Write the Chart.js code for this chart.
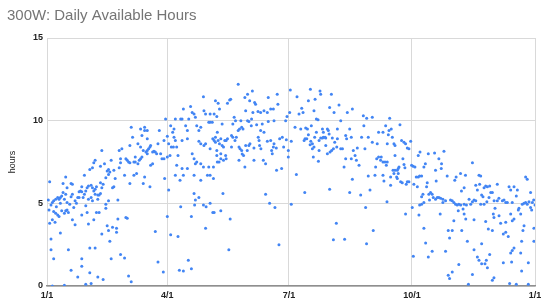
<!DOCTYPE html>
<html>
<head>
<meta charset="utf-8">
<script src="https://cdn.jsdelivr.net/npm/chart.js@4.4.1/dist/chart.umd.min.js"></script>
<style>
  html, body { margin: 0; padding: 0; background: #fff; }
  #wrap { width: 550px; height: 308px; }
</style>
</head>
<body>
<div id="wrap"><canvas id="hoursChart"></canvas></div>
<script>
// x = day of year (0 = Jan 1), y = available hours
const tickDays = [0, 90, 181, 273, 365];
const tickLabels = ['1/1', '4/1', '7/1', '10/1', '1/1'];
const hourTicks = [0, 5, 10, 15];

const janFeb = [
  [1,5.2],[2,6.3],[1.5,4.6],[3,4.9],[4,5.05],[5,5.15],[6.5,5.25],[8,5.35],[9,5.25],[10,5.35],
  [11,5.45],[13,5.25],[14,5.55],[15,5.95],[14,6.6],[12,6.2],[12,5.65],[5,4.5],[6.5,4.4],[8,4.3],
  [9,4.2],[11,4.55],[13,4.4],[14,4.55],[15,4.6],[16,4.45],[15,5.05],[17,4.95],[18,5.4],[19,5.55],
  [18,6.2],[19,6.15],[20,4.75],[21,5.15],[23,5.35],[24,5.35],[25,5.75],[26,5.7],[28,5.55],[29,5.75],
  [30,5.95],[31,6.05],[33,6.1],[34,5.95],[35,5.75],[36,5.85],[37,6.0],[28,6.7],[26,6.0],[24,5.7],
  [32,7.05],[34,7.15],[35,7.45],[36,7.6],[40,7.25],[41,8.2],[45,6.95],[46,6.75],[47,6.9],[46,7.05],
  [49,5.95],[54,7.15],[55,7.45],[54,8.2],[55,7.7],[36,5.55],[38,5.5],[39,5.5],[40,5.6],[38,5.25],
  [41,5.95],[40,6.25],[42,6.15],[44,6.55],[31,5.25],[34,5.15],[33,5.35],[29,4.85],[30,4.45],[26,4.3],
  [31,3.75],[35,4.0],[37,4.45],[39,4.45],[44,4.95],[46,5.15],[53,5.2],[44,4.7],[53,4.05],[49,3.55],
  [45,3.65],[46,3.35],[41,3.15],[52,3.5],[52,3.25],[47,2.7],[55,1.9],[48,1.65],[42,0.4],[38,0.55],
  [32,0.8],[33,0.15],[26,1.2],[26,1.65],[23,0.55],[18,0.95],[4,0.0],[13,0.05],[29,0.1],[5,1.65],
  [3,2.2],[3,2.85],[10,3.2],[4,4.0],[2,3.8],[6,3.85],[19,4.0],[16,2.2],[21,3.7],[32,2.3],
  [36,2.3],[50,7.0],[51,6.5],[56,8.3],[43,7.4],[48,7.6],[50,6.0],[27,5.35],[22,5.0],[7,4.8],[10,5.0]
];

const marApr = [
  [59,7.7],[60,7.6],[61,7.5],[62,7.45],[63,9.6],[62,8.5],[64,9.0],[65,7.5],[66,7.5],[66,7.8],
  [68,7.4],[69,7.6],[70,7.7],[71,7.8],[70,9.5],[71,9.1],[73,9.6],[73,9.4],[75,9.4],[75,8.9],
  [68,8.6],[70,8.4],[72,8.2],[74,8.1],[75,8.2],[76,8.3],[77,8.4],[77.5,8.5],[75,8.0],[79,8.1],
  [80,8.15],[81,8.1],[82,8.0],[77.5,7.3],[79,7.4],[83,8.6],[84,9.4],[85,8.0],[86,7.7],[87.5,8.8],
  [87.5,7.7],[90,9.05],[88.7,10.1],[91,8.6],[92,7.9],[92.5,9.7],[93,8.4],[94,9.3],[95,9.0],[96,8.8],
  [95,9.5],[96,10.1],[94.5,8.4],[97,8.4],[98,7.9],[100,10.1],[101,10.1],[101,8.8],[102,10.7],[103.7,9.7],
  [105,9.4],[105,8.9],[106,10.1],[107.4,10.85],[108.6,10.5],[110,10.4],[111,10.2],[112,9.7],[113.6,9.4],[115,9.6],
  [117,11.45],[117.4,10.6],[118.6,10.4],[121,9.9],[122,9.9],[123.6,9.9],[122,10.4],[118.6,8.6],[113.6,8.75],[115,8.6],
  [117.4,8.5],[122,8.3],[124,8.9],[108.6,8.0],[110,7.7],[112,7.5],[111,7.4],[115,7.4],[117,7.2],[121,7.2],
  [122,6.7],[120,6.7],[115,6.4],[110,6.7],[105,7.1],[101,7.1],[102,6.7],[99.5,6.4],[97,7.3],[96,6.7],
  [90,7.8],[88,6.5],[91,5.8],[65,6.7],[67,6.8],[73,6.6],[72,6.2],[62,6.2],[77,6.0],[58,6.7],
  [110,5.6],[111,5.2],[113.6,5.35],[110.4,4.9],[117,4.9],[119,4.8],[122,5.0],[124,4.45],[100,4.8],[108,4.2],
  [118.6,3.5],[90,4.2],[92.5,3.1],[98,3.0],[81,3.3],[60,4.1],[59,4.15],[58,1.7],[61,0.6],[63,0.25],
  [83,1.45],[87,0.85],[99,0.95],[102,0.9],[105.7,1.55],[108,1.05]
];

const mayJun = [
  [126,11.2],[128,11.05],[129,10.7],[125,10.4],[127,10.25],[131,9.8],[127.4,9.3],[126,9.0],[125,8.8],[126,8.7],
  [128,8.8],[130,8.9],[131,8.5],[132,8.4],[134,8.8],[135,8.9],[129,8.6],[133,8.8],[127,8.2],[127,7.9],
  [127.4,7.5],[128.7,7.5],[130,7.7],[130,8.0],[132,7.6],[133.6,7.9],[124.5,7.2],[124.5,6.5],[135,11.05],[136.6,11.25],
  [137.4,11.3],[140,10.2],[139,9.8],[141,10.0],[143,12.2],[138,9.1],[139,9.0],[140.6,8.8],[138,8.4],[141.6,9.0],
  [143,9.4],[144,9.5],[145.6,9.6],[146.6,9.5],[145,10.0],[148,11.4],[150,11.6],[148.6,10.6],[150,10.0],[151,9.95],
  [151.6,11.2],[153.6,11.8],[153,10.1],[152.8,9.7],[154,10.5],[155.3,11.1],[156,11.0],[156.8,9.75],[157.8,10.55],[159.8,10.5],
  [161,9.8],[162.3,10.6],[164.8,10.5],[165.5,11.4],[167.3,10.7],[169.3,10.7],[172.2,11.6],[172.7,11.0],[169.8,10.0],[165.5,9.95],
  [159.8,9.4],[162.3,9.3],[158,9.0],[158.6,8.8],[159,8.5],[160,8.3],[143.6,8.4],[144.4,8.3],[145.6,8.2],[146,7.98],
  [148.6,8.5],[149.8,8.2],[151,8.5],[151.8,8.6],[154.8,8.35],[154.8,7.6],[143.6,7.6],[147,7.9],[148,7.2],[161.8,7.6],
  [163.5,7.4],[164.8,8.75],[167.3,8.8],[168,8.2],[169.3,8.4],[169.8,8.6],[168.5,8.0],[171.5,8.35],[174,8.9],[171.7,7.0],
  [175.5,7.1],[179,8.85],[180.5,8.2],[180.5,7.8],[182,11.85],[181.5,10.5],[179.5,10.25],[178.5,10.0],[182.7,8.75],[173.5,2.5],
  [163.5,5.55],[166.5,5.0],[170.5,4.75],[136,2.2],[137,4.05],[131.6,5.6],[130,4.55],[125,4.45],[134,7.7],[176,9.0],
  [177,8.4],[182.7,4.95]
];

const julAug = [
  [187,11.45],[190.5,10.75],[191.5,10.5],[188.5,10.4],[195.5,11.2],[197,11.9],[199.7,10.6],[200.5,11.3],[201.5,10.1],[202.7,10.05],
  [204.2,11.8],[204.7,11.6],[211.4,10.8],[212.7,11.6],[214.7,10.5],[218.4,10.95],[219.7,10.0],[224.6,10.5],[228.4,10.7],[236.6,10.3],
  [239.1,10.15],[243.3,10.2],[237,9.7],[185.5,9.6],[189.8,9.5],[193.5,9.55],[194.8,9.5],[197.7,9.7],[195.5,9.15],[194.3,8.9],
  [193,8.9],[192.3,8.8],[197.3,8.75],[198.5,8.6],[196.8,8.55],[200.2,9.0],[201.5,9.3],[203.5,8.8],[204.7,8.95],[206,8.95],
  [206.7,9.0],[208,9.0],[208.5,8.95],[206,9.5],[209.7,9.5],[210.4,9.4],[211,9.2],[217.2,9.5],[206.7,9.3],[213.4,8.95],
  [217.2,8.9],[215.2,8.7],[223.4,9.1],[224.1,8.9],[226.4,9.5],[227.6,9.0],[208.5,8.5],[199.7,8.4],[198.5,8.3],[203.5,8.2],
  [199.2,7.8],[203,7.55],[209.7,8.0],[211.7,8.1],[212.9,8.2],[214.2,8.3],[216.7,8.4],[219.7,8.3],[221,8.3],[223.4,7.7],
  [222.2,7.2],[227.6,7.7],[228.4,6.45],[229.1,8.2],[230.4,7.9],[231.4,7.6],[232.1,8.35],[233.4,7.3],[235.3,9.0],[237.8,8.3],
  [240.3,9.0],[243.3,8.7],[247,8.6],[248,9.3],[246.6,7.7],[248,7.8],[245.8,7.2],[240.3,6.65],[245.3,6.7],[186.5,6.75],
  [192.8,5.65],[211.4,5.85],[226.4,5.65],[234.6,5.5],[241.6,5.8],[238.3,4.75],[216.4,3.8],[244,3.35],[214.2,2.8],[222.6,2.83],
  [239,2.55]
];

const sepOct = [
  [253.3,9.7],[251.3,9.3],[255.8,9.4],[257.5,9.5],[256.3,10.15],[258.3,9.0],[255.3,9.15],[264,9.75],[265.2,8.8],[267,8.7],
  [268.2,8.6],[269.5,8.35],[270.7,8.3],[272,8.75],[254.5,8.6],[259.5,8.6],[260.3,8.5],[249.5,7.6],[251.3,7.5],[252.8,7.5],
  [254.5,7.5],[253.8,7.3],[251.3,6.7],[252,6.35],[257,6.6],[257,6.1],[258.8,7.0],[260.3,7.0],[262,7.0],[262.7,7.1],
  [263.3,7.2],[259.5,6.8],[261.5,6.6],[262,6.5],[262.7,6.8],[264.5,6.3],[265.7,6.25],[267,7.35],[267.7,7.15],[269.5,6.3],
  [270.7,6.3],[268.7,6.15],[266.2,7.7],[260.3,7.9],[272.7,7.3],[273.9,7.25],[275.2,7.2],[274.4,6.15],[276.2,6.6],[277.7,6.6],
  [278.7,6.65],[280.2,6.65],[277,6.0],[277.7,7.9],[279,8.1],[281.9,7.2],[285.2,8.0],[289.9,8.05],[293.1,7.7],[295.1,7.4],
  [294.9,7.1],[296.9,8.15],[290.6,7.0],[291.1,6.35],[299.3,6.65],[284.4,6.25],[283.9,6.0],[286.9,5.65],[288.1,5.55],[285.6,5.55],
  [281.2,5.55],[280.2,5.4],[281.9,5.05],[286.1,5.2],[288.9,5.35],[290.6,5.25],[291.9,5.35],[293.1,5.35],[294.4,5.3],[296.1,5.25],
  [298.1,5.15],[296.1,5.05],[301.8,5.2],[303.1,5.15],[304.3,5.05],[305.6,4.95],[306.8,4.9],[308,4.95],[305,6.4],[306,6.6],
  [280.2,4.95],[278.7,4.9],[273.2,4.75],[268.2,4.35],[278.2,4.3],[281.9,3.5],[283.2,2.6],[288.1,2.1],[285.2,1.75],[274,1.8],
  [298.1,2.1],[300.1,3.35],[301.1,2.9],[303.1,3.35],[294.1,4.35],[304.3,3.95],[307.6,4.55],[308,1.3],[303.1,0.85],[300.1,0.65],
  [301.1,0.45],[254.3,5.1],[250,7.8],[283,7.4]
];

const novDec = [
  [309.3,6.8],[313,6.7],[312,5.95],[310,5.75],[309.4,4.9],[312,4.95],[313.7,4.9],[311.2,4.65],[312,4.35],[313.2,4.05],
  [310.2,3.35],[314.4,2.7],[315.7,5.25],[316.9,4.95],[318.2,5.1],[319.4,5.2],[320.7,5.15],[319.4,4.0],[320.7,6.1],[321.9,5.8],
  [323.1,6.7],[324.4,6.65],[323.6,6.15],[325.1,5.5],[326.1,5.4],[326.9,4.95],[324.4,4.95],[326.9,5.95],[328.1,6.05],[329.4,6.0],
  [330.6,5.35],[331.9,5.65],[333.1,5.65],[334.4,5.15],[336.8,5.15],[331.1,6.05],[336.8,6.15],[340.6,5.15],[341.8,5.2],[343.1,5.05],
  [344.3,5.05],[345.6,6.0],[346.8,5.8],[348,5.05],[349.3,6.0],[351,5.45],[351.8,5.8],[352.5,4.6],[353,4.7],[354.3,4.35],
  [355.5,4.95],[356.8,5.0],[358,5.05],[359.2,4.95],[360.5,5.1],[361.7,4.75],[362.5,4.6],[363,5.05],[361.7,5.65],[358,6.6],
  [359.2,6.45],[318.2,7.45],[335.1,4.7],[333.8,4.35],[338.1,4.25],[339.3,3.8],[334.3,4.15],[343.1,3.85],[346.8,4.35],[348,3.95],
  [349.3,4.05],[341.3,3.15],[343.1,3.25],[333.1,3.35],[330.1,3.45],[328.1,3.9],[345,3.0],[356.8,3.65],[356,3.35],[364.2,3.5],
  [364.2,2.7],[355,2.7],[325.1,2.55],[319.4,2.2],[321.9,1.75],[323.1,1.55],[325.1,1.35],[327.6,1.35],[328.6,1.55],[329.4,1.1],
  [331.1,1.9],[341.3,1.4],[346.8,2.0],[348,2.15],[349.3,2.3],[354.3,2.0],[347.5,1.45],[360,1.4],[355,0.9],[334.3,0.5],
  [333.1,0.35],[318.2,0.7],[315.2,0.1],[346,0.15],[351,0.1],[360,0.1],[364,5.2],[365,4.9],[338,5.3],[329,5.1]
];

const points = [...janFeb, ...marApr, ...mayJun, ...julAug, ...sepOct, ...novDec]
  .map(([x, y]) => ({ x, y }));

const FONT = "'Liberation Sans', Arial, sans-serif";

new Chart(document.getElementById('hoursChart'), {
  type: 'scatter',
  data: {
    datasets: [
      {
        data: points,
        backgroundColor: '#4285f4',
        borderWidth: 0,
        pointRadius: 1.5,
        pointHoverRadius: 1.5,
      },
    ],
  },
  options: {
    responsive: true,
    maintainAspectRatio: false,
    animation: false,
    layout: { padding: { left: 7, right: 15, top: 0, bottom: 0 } },
    plugins: {
      legend: { display: false },
      tooltip: { enabled: false },
      title: {
        display: true,
        text: '300W: Daily Available Hours',
        align: 'start',
        color: '#757575',
        font: { family: FONT, size: 15, weight: 'normal' },
        padding: { top: 7, bottom: 13 },
      },
    },
    scales: {
      x: {
        type: 'linear',
        min: 0,
        max: 365,
        afterBuildTicks: (scale) => {
          scale.ticks = tickDays.map((value) => ({ value }));
        },
        afterFit: (scale) => {
          scale.height = 22;
        },
        ticks: {
          autoSkip: false,
          maxRotation: 0,
          padding: 4,
          color: '#222',
          font: { family: FONT, size: 9, weight: 'bold' },
          callback: (value) => tickLabels[tickDays.indexOf(value)],
        },
        grid: { color: '#d9d9d9', drawTicks: false },
        border: { display: true, color: '#8f8f8f', width: 1.5 },
      },
      y: {
        min: 0,
        max: 15,
        afterBuildTicks: (scale) => {
          scale.ticks = hourTicks.map((value) => ({ value }));
        },
        afterFit: (scale) => {
          scale.width = 40;
        },
        ticks: {
          padding: 4,
          color: '#222',
          font: { family: FONT, size: 9, weight: 'bold' },
        },
        grid: { color: '#d9d9d9', drawTicks: false },
        border: { display: false },
        title: {
          display: true,
          text: 'hours',
          color: '#222',
          font: { family: FONT, size: 9 },
          padding: { top: 0, bottom: 0 },
        },
      },
    },
  },
});
</script>
</body>
</html>
